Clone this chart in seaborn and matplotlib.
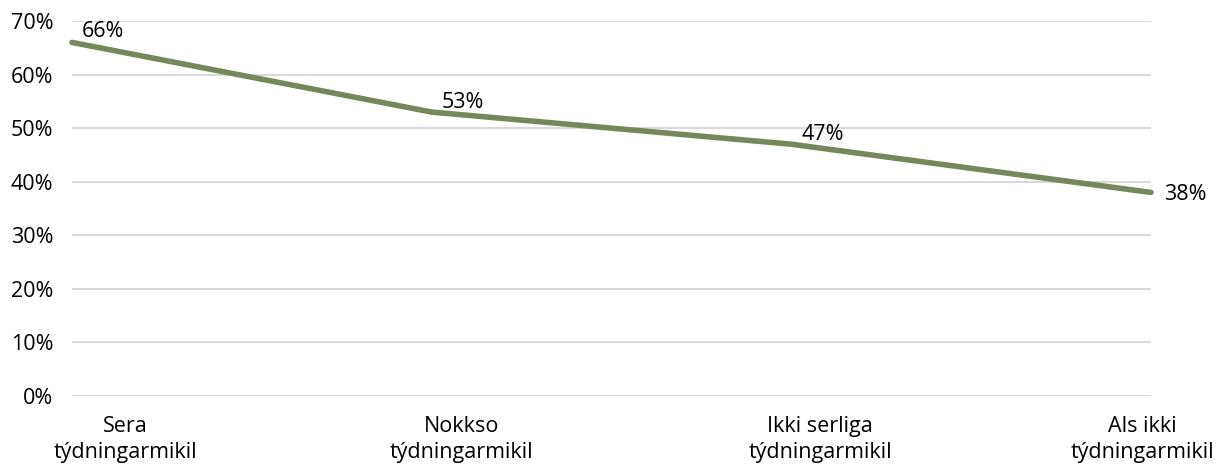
import matplotlib
matplotlib.use("Agg")
import matplotlib.pyplot as plt
import matplotlib.transforms as mtransforms
import seaborn as sns
import pandas as pd

categories = ["Sera\ntýdningarmikil", "Nokkso\ntýdningarmikil",
              "Ikki serliga\ntýdningarmikil", "Als ikki\ntýdningarmikil"]
values = [66, 53, 47, 38]
y_ticks = [0, 10, 20, 30, 40, 50, 60, 70]

sns.set_style("white")
plt.rcParams['font.family'] = ['Open Sans', 'DejaVu Sans']
plt.rcParams['text.color'] = 'black'
plt.rcParams['xtick.color'] = 'black'
plt.rcParams['ytick.color'] = 'black'

FS = 15.5

df = pd.DataFrame({"pos": range(len(categories)), "value": values})

fig = plt.figure(figsize=(12.23, 4.68), dpi=100)
ax = fig.add_axes([72/1223, (468-396)/468, (1151-72)/1223, (396-21)/468])

ax.set_ylim(0, 70)
ax.set_xlim(0, len(categories) - 1)
ax.set_yticks(y_ticks)
ax.set_yticklabels([f"{v}%" for v in y_ticks], fontsize=FS, color="black")
ax.yaxis.grid(True, color="#d9d9d9", linewidth=1.5)
ax.set_axisbelow(True)
for s in ax.spines.values():
    s.set_visible(False)
ax.tick_params(axis="y", length=0, pad=13.5)
ax.tick_params(axis="x", length=0, pad=14.5)

sns.lineplot(data=df, x="pos", y="value", ax=ax, color="#76875b",
             linewidth=4.0, clip_on=False)

ax.set_xticks(list(range(len(categories))))
ax.set_xticklabels(categories, fontsize=FS, linespacing=1.3, color="black")
offsets = [53, 30, 29, -9]
for lab, off in zip(ax.get_xticklabels(), offsets):
    lab.set_transform(lab.get_transform() +
                      mtransforms.ScaledTranslation(off/100, 0, fig.dpi_scale_trans))
ax.set_xlabel("")
ax.set_ylabel("")

# data labels (offsets in pixels)
label_off = [(10, 5), (10, 4), (10, 4), (13, -8)]
for i, v in enumerate(values):
    dx, dy = label_off[i]
    ax.annotate(f"{v}%", (i, v), xytext=(dx * 0.72, dy * 0.72), textcoords="offset points",
                ha="left", va="baseline", fontsize=FS, color="black",
                annotation_clip=False)

fig.savefig("out.png", dpi=100)
